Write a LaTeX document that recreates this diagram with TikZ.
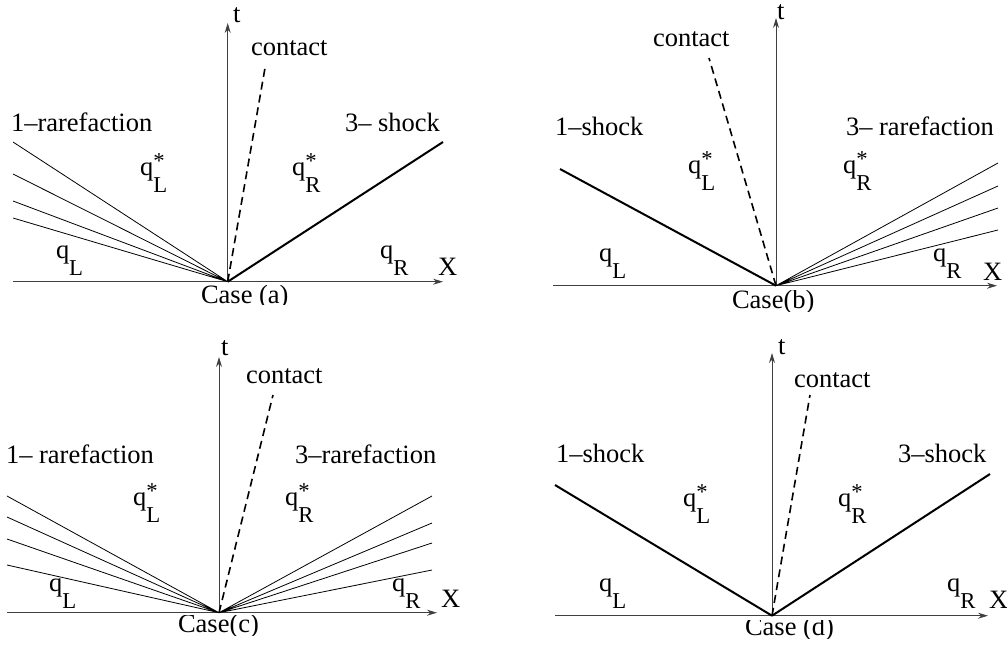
\documentclass[tikz,border=0pt]{standalone}
\usepackage{fontspec}
\setmainfont{Liberation Serif}
\usetikzlibrary{arrows.meta}
\newcommand\qsub[1]{q\raisebox{-17pt}{\fontsize{22.7}{23}\selectfont #1}}
\newcommand\qstar[1]{q\raisebox{-17pt}{\fontsize{22.7}{23}\selectfont\rlap{\raisebox{24pt}{*}}#1}}
\begin{document}
\begin{tikzpicture}[x=1pt,y=-1pt,font=\fontsize{26.5}{30}\selectfont,
  lbl/.style={anchor=base west,inner sep=0pt,outer sep=0pt},
  axis/.style={draw=black!75,line width=1pt,-{Stealth[length=10pt,width=6pt]}},
  fan/.style={line width=0.8pt},
  shock/.style={line width=2pt},
  contactline/.style={line width=1.6pt,dash pattern=on 8pt off 5pt}]
\useasboundingbox (0,0) rectangle (1007,646);

% ---------------- Case (a)
\coordinate (a0) at (227.7,281.7);
\coordinate (aXs) at (13,281.7);
\coordinate (aXe) at (443,281.7);
\coordinate (aT) at (227.7,23);
\coordinate (ac) at (265.7,64);
\coordinate (ar1) at (13,142);
\coordinate (ar2) at (13,174);
\coordinate (ar3) at (13,201);
\coordinate (ar4) at (13,218);
\coordinate (as) at (443,142);
\draw[axis] (aXs) -- (aXe);
\draw[axis] (a0) -- (aT);
\draw[contactline] (a0) -- (ac);
\draw[fan] (a0) -- (ar1) (a0) -- (ar2) (a0) -- (ar3) (a0) -- (ar4);
\draw[shock] (a0) -- (as);
\node[lbl] (at) at (233,22) {t};
\node[lbl] (aX) at (438,275) {X};
\node[lbl] (acl) at (251,55) {contact};
\node[lbl] (arl) at (11,131) {1–rarefaction};
\node[lbl] (asl) at (345,131) {3– shock};
\node[lbl] (aqls) at (140,175) {\qstar{L}};
\node[lbl] (aqrs) at (292,175) {\qstar{R}};
\node[lbl] (aql) at (56,258) {\qsub{L}};
\node[lbl] (aqr) at (380,258) {\qsub{R}};
\begin{scope}
\clip (100,285) rectangle (400,304);
\node[lbl] (acase) at (201,303) {Case (a)};
\end{scope}

% ---------------- Case (b)
\coordinate (b0) at (776,285.7);
\coordinate (bXs) at (553,285.7);
\coordinate (bXe) at (997,285.7);
\coordinate (bT) at (776,18);
\coordinate (bc) at (709,58);
\coordinate (bs) at (560,169);
\coordinate (br1) at (998,163);
\coordinate (br2) at (998,186);
\coordinate (br3) at (998,208);
\coordinate (br4) at (998,230);
\draw[axis] (bXs) -- (bXe);
\draw[axis] (b0) -- (bT);
\draw[contactline] (b0) -- (bc);
\draw[shock] (b0) -- (bs);
\draw[fan] (b0) -- (br1) (b0) -- (br2) (b0) -- (br3) (b0) -- (br4);
\node[lbl] (bt) at (777,19) {t};
\node[lbl] (bX) at (983,280) {X};
\node[lbl] (bcl) at (653,46) {contact};
\node[lbl] (bsl) at (555,135) {1–shock};
\node[lbl] (brl) at (846,135) {3– rarefaction};
\node[lbl] (bqls) at (688,173) {\qstar{L}};
\node[lbl] (bqrs) at (843,173) {\qstar{R}};
\node[lbl] (bql) at (599,261) {\qsub{L}};
\node[lbl] (bqr) at (933,261) {\qsub{R}};
\begin{scope}
\clip (650,290) rectangle (900,311.5);
\node[lbl] (bcase) at (732,308) {Case(b)};
\end{scope}

% ---------------- Case (c)
\coordinate (c0) at (219,612.7);
\coordinate (cXs) at (7,612.7);
\coordinate (cXe) at (437,612.7);
\coordinate (cT) at (219,357);
\coordinate (cc) at (273,395);
\coordinate (cl1) at (7,496);
\coordinate (cl2) at (7,517);
\coordinate (cl3) at (7,539);
\coordinate (cl4) at (7,565);
\coordinate (cr1) at (432,496);
\coordinate (cr2) at (432,523);
\coordinate (cr3) at (432,543);
\coordinate (cr4) at (432,570);
\draw[axis] (cXs) -- (cXe);
\draw[axis] (c0) -- (cT);
\draw[contactline] (c0) -- (cc);
\draw[fan] (c0) -- (cl1) (c0) -- (cl2) (c0) -- (cl3) (c0) -- (cl4);
\draw[fan] (c0) -- (cr1) (c0) -- (cr2) (c0) -- (cr3) (c0) -- (cr4);
\node[lbl] (ct) at (221,355) {t};
\node[lbl] (cX) at (441,607) {X};
\node[lbl] (ccl) at (246,383) {contact};
\node[lbl] (cll) at (6,463) {1– rarefaction};
\node[lbl] (crl) at (295,463) {3–rarefaction};
\node[lbl] (cqls) at (133,505) {\qstar{L}};
\node[lbl] (cqrs) at (285,505) {\qstar{R}};
\node[lbl] (cql) at (49,591) {\qsub{L}};
\node[lbl] (cqr) at (392,591) {\qsub{R}};
\begin{scope}
\clip (100,615) rectangle (350,635);
\node[lbl] (ccase) at (178,632) {Case(c)};
\end{scope}

% ---------------- Case (d)
\coordinate (d0) at (772,615.7);
\coordinate (dXs) at (555,615.7);
\coordinate (dXe) at (988,615.7);
\coordinate (dT) at (772,353);
\coordinate (dc) at (810,395);
\coordinate (dsl) at (555,485);
\coordinate (dsr) at (990,474);
\draw[axis] (dXs) -- (dXe);
\draw[axis] (d0) -- (dT);
\draw[contactline] (d0) -- (dc);
\draw[shock] (d0) -- (dsl);
\draw[shock] (d0) -- (dsr);
\node[lbl] (dt) at (778,354) {t};
\node[lbl] (dX) at (989,608) {X};
\node[lbl] (dcl) at (794,387) {contact};
\node[lbl] (dll) at (556,462) {1–shock};
\node[lbl] (drl) at (898,462) {3–shock};
\node[lbl] (dqls) at (683,506) {\qstar{L}};
\node[lbl] (dqrs) at (838,506) {\qstar{R}};
\node[lbl] (dql) at (599,591) {\qsub{L}};
\node[lbl] (dqr) at (947,591) {\qsub{R}};
\begin{scope}
\clip (650,620) rectangle (900,638);
\node[lbl] (dcase) at (745,635) {Case (d)};
\end{scope}
\end{tikzpicture}
\end{document}
